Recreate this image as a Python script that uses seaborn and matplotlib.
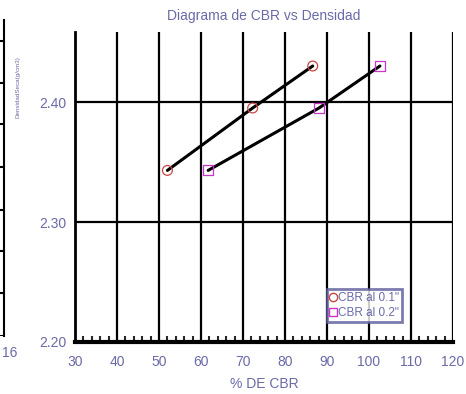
import matplotlib
matplotlib.use('Agg')
import matplotlib.pyplot as plt
from matplotlib.ticker import MultipleLocator
from matplotlib.lines import Line2D
import pandas as pd
import seaborn as sns

# datos
cbr_01 = [52.0, 72.3, 86.6]
cbr_02 = [61.7, 88.1, 102.6]
densidad = [2.343, 2.395, 2.430]
series = ['CBR al 0.1"', 'CBR al 0.2"']
x_ticks = [30, 40, 50, 60, 70, 80, 90, 100, 110, 120]
y_ticks = [2.20, 2.30, 2.40]

df = pd.DataFrame({
    'cbr': cbr_01 + cbr_02,
    'dens': densidad + densidad,
    'serie': [series[0]] * 3 + [series[1]] * 3,
})

sns.set_style('white')
plt.rcParams['font.family'] = ['Liberation Sans', 'DejaVu Sans']

txt = '#6a6aa8'
W, H = 466, 394
fig = plt.figure(figsize=(W / 100, H / 100), dpi=100)

# trozo del grafico vecino (borde izquierdo)
ax0 = fig.add_axes([-0.2, (H - 336) / H, 0.2 + 4 / W, (336 - 20) / H])
ax0.set_xlim(0, 16)
ax0.set_ylim(0, 1)
for s in ['top', 'left', 'bottom']:
    ax0.spines[s].set_visible(False)
ax0.spines['right'].set_color('black')
ax0.spines['right'].set_linewidth(1.5)
for yy in [0.0, 0.135, 0.27, 0.40, 0.535, 0.67, 0.80, 0.935]:
    ax0.axhline(yy, color='black', lw=1.5)
ax0.set_xticks([])
ax0.set_yticks([])
ax0.patch.set_alpha(0)
fig.text(10 / W, 1 - 353 / H, '16', color=txt, fontsize=10,
         ha='center', va='center')

ax = fig.add_axes([75 / W, (H - 342) / H, 378 / W, 310 / H])

sns.lineplot(data=df, x='cbr', y='dens', units='serie', estimator=None,
             sort=False, color='black', lw=2.2, ax=ax, legend=False, zorder=4)
sns.scatterplot(data=df, x='cbr', y='dens', hue='serie', style='serie',
                markers={series[0]: 'o', series[1]: 's'},
                palette={series[0]: 'none', series[1]: 'none'},
                s=50, ax=ax, legend=False, zorder=5)
pts = ax.collections
pts[-1].set_edgecolors(['#cc4444'] * 3 + ['#cc33cc'] * 3)
pts[-1].set_facecolors('none')
pts[-1].set_linewidths(0.9)

ax.set_xlim(30, 120)
ax.set_ylim(2.20, 2.20 + 310 / 1200)
ax.set_xticks(x_ticks)
ax.set_yticks(y_ticks)
ax.set_yticklabels(['%.2f' % v for v in y_ticks])
ax.xaxis.set_minor_locator(MultipleLocator(2))
ax.grid(True, which='major', color='black', lw=1.6)
ax.tick_params(axis='both', which='major', colors='black', labelcolor=txt,
               labelsize=10)
ax.tick_params(axis='x', which='major', direction='in', length=4, width=1.5,
               pad=9)
ax.tick_params(axis='x', which='minor', direction='in', length=4, width=1.5,
               bottom=True)
ax.tick_params(axis='y', which='major', direction='out', length=4, width=2,
               pad=2)
ax.spines['top'].set_visible(False)
ax.spines['right'].set_visible(False)
ax.spines['left'].set_color('black')
ax.spines['left'].set_linewidth(2)
ax.spines['bottom'].set_color('black')
ax.spines['bottom'].set_linewidth(3)

ax.set_xlabel('% DE CBR', color=txt, fontsize=10, labelpad=6)
ax.set_ylabel('')
fig.text(264 / W, 1 - 16 / H, 'Diagrama de CBR vs Densidad', color=txt,
         fontsize=10, ha='center', va='center')
fig.text(18 / W, 1 - 87 / H, 'DensidadSeca(g/cm3)', color=txt, fontsize=4.5,
         rotation=90, ha='center', va='center')

# leyenda
handles = [
    Line2D([], [], ls='none', marker='o', mfc='none', mec='#cc4444', ms=6),
    Line2D([], [], ls='none', marker='s', mfc='none', mec='#cc33cc', ms=6),
]
leg = ax.legend(handles, series, loc='upper left',
                bbox_to_anchor=((327 - 75) / 378, (342 - 289) / 310),
                fontsize=8.5, frameon=True, fancybox=False, handlelength=0.6,
                handletextpad=0.1, borderpad=0.25, labelspacing=0.3,
                borderaxespad=0)
leg.get_frame().set_edgecolor('#5a5a9a')
leg.get_frame().set_linewidth(2)
for t in leg.get_texts():
    t.set_color(txt)

fig.savefig('out.png', dpi=100)
